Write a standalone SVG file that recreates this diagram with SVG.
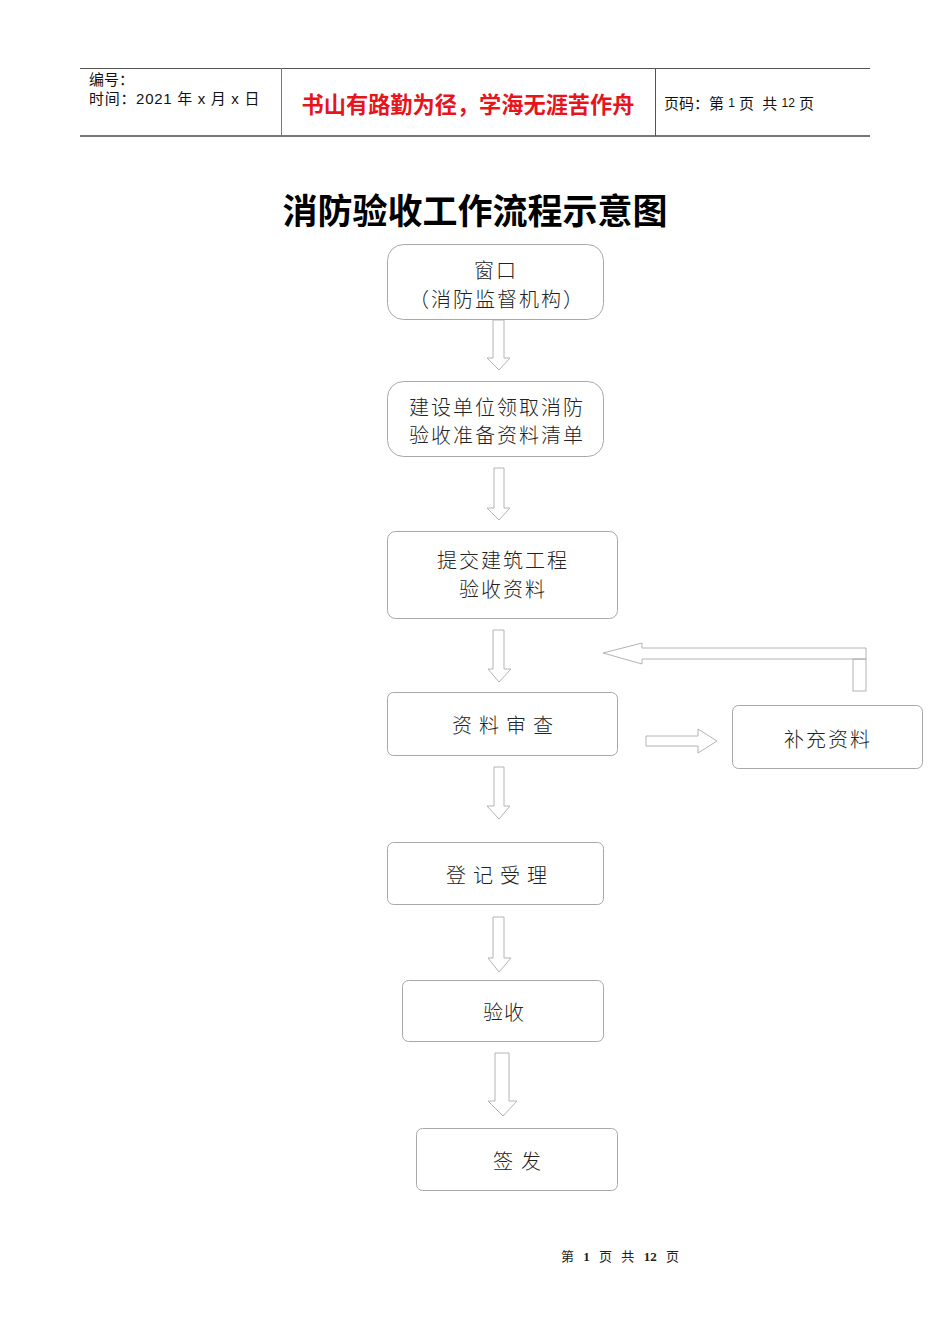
<svg xmlns="http://www.w3.org/2000/svg" width="950" height="1344" viewBox="0 0 950 1344">
<style>
.node{fill:#fff;stroke:#a8a8a8;stroke-width:1}
.arr{fill:#fff;stroke:#b4b4b4;stroke-width:1}
.t{font-family:"Noto Sans CJK SC","Liberation Sans",sans-serif;font-size:20px;fill:#222;font-weight:300;dominant-baseline:central}
.c{text-anchor:middle}
.h{font-family:"Liberation Sans","Noto Sans CJK SC",sans-serif;font-size:15px;fill:#111;dominant-baseline:central}
</style>
<rect width="950" height="1344" fill="#fff"/>
<g id="header">
<line x1="80" y1="68.5" x2="870" y2="68.5" stroke="#555" stroke-width="1"/>
<line x1="80" y1="136" x2="870" y2="136" stroke="#777" stroke-width="2"/>
<line x1="281.5" y1="68" x2="281.5" y2="136" stroke="#777" stroke-width="1"/>
<line x1="655.5" y1="68" x2="655.5" y2="136" stroke="#555" stroke-width="1"/>
<text class="h" x="89" y="79">编号：</text>
<text class="h" x="89" y="98" letter-spacing="0.7">时间：2021 年 x 月 x 日</text>
<text x="468" y="103" text-anchor="middle" font-family="Noto Sans CJK SC, sans-serif" font-size="22.2" font-weight="bold" fill="#e8141c" dominant-baseline="central">书山有路勤为径，学海无涯苦作舟</text>
<text class="h" x="664" y="103" font-size="15" xml:space="preserve">页码：第 <tspan font-size="12">1</tspan> 页  共 <tspan font-size="12">12</tspan> 页</text>
</g>
<text id="title" x="475" y="208" text-anchor="middle" font-family="Noto Sans CJK SC, sans-serif" font-size="35" font-weight="bold" fill="#000" dominant-baseline="central">消防验收工作流程示意图</text>
<g id="connectors">
<polygon class="arr" points="493,320 504,320 504,358 510,358 499,370 487,358 493,358"/>
<polygon class="arr" points="494,468 504,468 504,508 510,508 499,520 487,508 494,508"/>
<polygon class="arr" points="493,630 504,630 504,669 511,669 499,682 488,669 493,669"/>
<polygon class="arr" points="494,767 504,767 504,806 510,806 499,819 487,806 494,806"/>
<polygon class="arr" points="493,917 504,917 504,958 511,958 499,972 488,958 493,958"/>
<polygon class="arr" points="495,1053 509,1053 509,1101 517,1101 503,1116 488,1101 495,1101"/>
<polygon class="arr" points="646,736 698,736 698,729 717,741 698,753 698,746 646,746"/>
<rect class="arr" x="853" y="659" width="13" height="32"/>
<polygon class="arr" points="603,653 642,643 642,648 866,648 866,659 642,659 642,664"/>
<line x1="853" y1="659" x2="866" y2="659" stroke="#b4b4b4"/>
</g>
<g id="n1">
<rect class="node" x="387.5" y="244.5" width="216" height="75" rx="16"/>
<text class="t c" x="496" y="269" letter-spacing="2">窗口</text>
<text class="t c" x="497" y="298" letter-spacing="2">（消防监督机构）</text>
</g>
<g id="n2">
<rect class="node" x="387.5" y="381.5" width="216" height="75" rx="16"/>
<text class="t c" x="497" y="406" letter-spacing="2">建设单位领取消防</text>
<text class="t c" x="497" y="434" letter-spacing="2">验收准备资料清单</text>
</g>
<g id="n3">
<rect class="node" x="387.5" y="531.5" width="230" height="87" rx="8"/>
<text class="t c" x="503" y="559" letter-spacing="2">提交建筑工程</text>
<text class="t c" x="503" y="588" letter-spacing="2">验收资料</text>
</g>
<g id="n4">
<rect class="node" x="387.5" y="692.5" width="230" height="63" rx="6"/>
<text class="t" x="452 472 479 499 506 526 533" y="724">资 料 审 查</text>
</g>
<g id="n5">
<rect class="node" x="732.5" y="705.5" width="190" height="63" rx="6"/>
<text class="t c" x="828" y="738" letter-spacing="2">补充资料</text>
</g>
<g id="n6">
<rect class="node" x="387.5" y="842.5" width="216" height="62" rx="6"/>
<text class="t" x="446 466 473 493 500 520 527" y="874">登 记 受 理</text>
</g>
<g id="n7">
<rect class="node" x="402.5" y="980.5" width="201" height="61" rx="6"/>
<text class="t c" x="504" y="1011" letter-spacing="1">验收</text>
</g>
<g id="n8">
<rect class="node" x="416.5" y="1128.5" width="201" height="62" rx="6"/>
<text class="t" x="493 513 521" y="1160">签 发</text>
</g>
<text id="footer" x="620" y="1256" text-anchor="middle" font-family="Liberation Serif, Noto Sans CJK SC, serif" font-size="13" fill="#222" dominant-baseline="central" word-spacing="6">第 <tspan font-weight="bold">1</tspan> 页 共 <tspan font-weight="bold">12</tspan> 页</text>
</svg>
